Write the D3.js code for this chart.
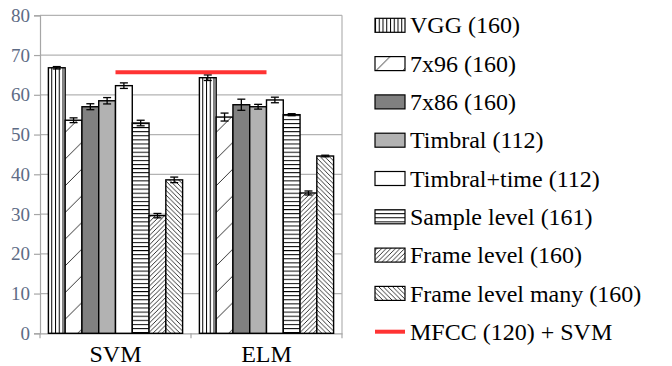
<!DOCTYPE html>
<html><head><meta charset="utf-8">
<script src="https://cdn.jsdelivr.net/npm/d3@7"></script>
<style>html,body{margin:0;padding:0;background:#fff;} svg{display:block;}</style>
</head><body>
<svg id="chart" width="672" height="366"></svg>
<script>
const categories = ["SVM", "ELM"];
const seriesNames = ["VGG (160)", "7x96 (160)", "7x86 (160)", "Timbral (112)", "Timbral+time (112)", "Sample level (161)", "Frame level (160)", "Frame level many (160)"];
const svmValues = [66.8, 53.6, 57.0, 58.5, 62.3, 52.9, 29.6, 38.6];
const svmErrors = [0.3, 0.6, 0.75, 0.8, 0.7, 0.7, 0.55, 0.7];
const elmValues = [64.3, 54.4, 57.5, 57.0, 58.7, 55.0, 35.3, 44.6];
const elmErrors = [0.7, 1.0, 1.4, 0.6, 0.7, 0.25, 0.5, 0.2];
const mfccName = "MFCC (120) + SVM";
const mfccValues = [65.7, 65.7];
const yTicks = [0, 10, 20, 30, 40, 50, 60, 70, 80];

const svg = d3.select("#chart");
const font = "Liberation Serif";
const pLeft = 40, pRight = 342, pTop = 15.3, pBottom = 333.3;

const defs = svg.append("defs");
function pat(id, w, h, draw, tx) {
  const p = defs.append("pattern").attr("id", id).attr("patternUnits", "userSpaceOnUse")
    .attr("width", w).attr("height", h);
  if (tx) p.attr("patternTransform", `translate(${tx},0)`);
  p.append("rect").attr("width", w).attr("height", h).attr("fill", "#fff");
  draw(p);
}
const diagUp = (p, s, sw) => {
  p.append("line").attr("x1", 0).attr("y1", s).attr("x2", s).attr("y2", 0).attr("stroke", "#000").attr("stroke-width", sw);
  p.append("line").attr("x1", -1).attr("y1", 1).attr("x2", 1).attr("y2", -1).attr("stroke", "#000").attr("stroke-width", sw);
  p.append("line").attr("x1", s - 1).attr("y1", s + 1).attr("x2", s + 1).attr("y2", s - 1).attr("stroke", "#000").attr("stroke-width", sw);
};
pat("pVGG", 3.75, 10, p => p.append("line").attr("x1", 0.5).attr("x2", 0.5).attr("y1", 0).attr("y2", 10).attr("stroke", "#000").attr("stroke-width", 1));
pat("p796", 26.7, 26.7, p => diagUp(p, 26.7, 0.8), 24);
pat("p796L", 26.7, 26.7, p => diagUp(p, 26.7, 0.8), 19.5);
pat("pSample", 10, 4.1, p => p.append("line").attr("x1", 0).attr("x2", 10).attr("y1", 0.5).attr("y2", 0.5).attr("stroke", "#000").attr("stroke-width", 1));
pat("pFrame", 4.6, 4.6, p => diagUp(p, 4.6, 0.8));
pat("pMany", 4.6, 4.6, p => {
  p.append("line").attr("x1", 0).attr("y1", 0).attr("x2", 4.6).attr("y2", 4.6).attr("stroke", "#000").attr("stroke-width", 0.8);
  p.append("line").attr("x1", 3.6).attr("y1", -1).attr("x2", 5.6).attr("y2", 1).attr("stroke", "#000").attr("stroke-width", 0.8);
  p.append("line").attr("x1", -1).attr("y1", 3.6).attr("x2", 1).attr("y2", 5.6).attr("stroke", "#000").attr("stroke-width", 0.8);
});
const fills = ["url(#pVGG)", "url(#p796)", "#808080", "#b2b2b2", "#ffffff", "url(#pSample)", "url(#pFrame)", "url(#pMany)"];
const legendFills = ["url(#pVGG)", "url(#p796L)", "#808080", "#b2b2b2", "#ffffff", "url(#pSample)", "url(#pFrame)", "url(#pMany)"];

const y = d3.scaleLinear().domain([0, 80]).range([pBottom, pTop]);
const x0 = d3.scaleBand().domain(categories).range([pLeft, pRight]);
const x1 = d3.scaleBand().domain(seriesNames).range([0, x0.bandwidth()]).paddingOuter(0.5);

// gridlines
svg.append("g").selectAll("line").data(yTicks.filter(d => d > 0)).join("line")
  .attr("x1", pLeft).attr("x2", pRight).attr("y1", d => y(d)).attr("y2", d => y(d))
  .attr("stroke", "#b3b3b3").attr("stroke-width", 1.2);
svg.append("line").attr("x1", pRight).attr("x2", pRight).attr("y1", pTop).attr("y2", pBottom)
  .attr("stroke", "#b3b3b3").attr("stroke-width", 1.2);

// y axis
const yAxis = svg.append("g").attr("transform", `translate(${pLeft},0)`)
  .call(d3.axisLeft(y).tickValues(yTicks).tickSize(6).tickPadding(4));
yAxis.attr("font-family", font).attr("font-size", 19);
yAxis.select(".domain").attr("stroke", "#a6a6a6").attr("stroke-width", 1.2);
yAxis.selectAll(".tick line").attr("stroke", "#a6a6a6").attr("stroke-width", 1.2);
yAxis.selectAll("text").attr("font-family", font).attr("font-size", 19).attr("fill", "#5d6b85");

// x axis
const xAxis = svg.append("g").attr("transform", `translate(0,${pBottom})`)
  .call(d3.axisBottom(x0).tickSize(0).tickPadding(12));
xAxis.attr("font-family", font).attr("font-size", 24);
xAxis.select(".domain").attr("stroke", "#a6a6a6").attr("stroke-width", 1.2);
xAxis.selectAll("text").attr("font-family", font).attr("font-size", 24).attr("fill", "#000");
svg.append("g").selectAll("line").data([pLeft, x0("ELM"), pRight]).join("line")
  .attr("x1", d => d).attr("x2", d => d).attr("y1", pBottom).attr("y2", pBottom + 5)
  .attr("stroke", "#a6a6a6").attr("stroke-width", 1.2);

// bars
const groups = [
  { cat: "SVM", vals: svmValues, errs: svmErrors },
  { cat: "ELM", vals: elmValues, errs: elmErrors }
];
groups.forEach(g => {
  const gg = svg.append("g").attr("transform", `translate(${x0(g.cat)},0)`);
  const data = seriesNames.map((s, i) => ({ s, i, v: g.vals[i], e: g.errs[i] }));
  gg.selectAll("rect").data(data).join("rect")
    .attr("x", d => x1(d.s)).attr("width", x1.bandwidth())
    .attr("y", d => y(d.v)).attr("height", d => y(0) - y(d.v))
    .attr("fill", d => fills[d.i]).attr("stroke", "#000").attr("stroke-width", 1.4);
  const eb = gg.selectAll("g.eb").data(data).join("g").attr("class", "eb");
  const cx = d => x1(d.s) + x1.bandwidth() / 2;
  eb.append("line").attr("x1", cx).attr("x2", cx)
    .attr("y1", d => y(d.v + d.e)).attr("y2", d => y(d.v - d.e)).attr("stroke", "#000").attr("stroke-width", 1.3);
  eb.append("line").attr("x1", d => cx(d) - 4).attr("x2", d => cx(d) + 4)
    .attr("y1", d => y(d.v + d.e)).attr("y2", d => y(d.v + d.e)).attr("stroke", "#000").attr("stroke-width", 1.3);
  eb.append("line").attr("x1", d => cx(d) - 4).attr("x2", d => cx(d) + 4)
    .attr("y1", d => y(d.v - d.e)).attr("y2", d => y(d.v - d.e)).attr("stroke", "#000").attr("stroke-width", 1.3);
});

// MFCC line
const mline = d3.line().x((d, i) => x0(categories[i]) + x0.bandwidth() / 2).y(d => y(d));
svg.append("path").datum(mfccValues).attr("d", mline).attr("fill", "none")
  .attr("stroke", "#ff3333").attr("stroke-width", 4);

// legend
const lg = svg.append("g").attr("font-family", font).attr("font-size", 24);
const rowY = i => 25.3 + 38.3 * i;
seriesNames.forEach((s, i) => {
  lg.append("rect").attr("x", 375).attr("y", rowY(i) - 7).attr("width", 30).attr("height", 14)
    .attr("fill", legendFills[i]).attr("stroke", "#000").attr("stroke-width", 1.2);
  lg.append("text").attr("x", 410).attr("y", rowY(i)).attr("dy", "0.34em")
    .attr("font-family", font).attr("font-size", 24).attr("fill", "#000").text(s);
});
lg.append("line").attr("x1", 375).attr("x2", 405).attr("y1", rowY(8)).attr("y2", rowY(8))
  .attr("stroke", "#ff3333").attr("stroke-width", 4);
lg.append("text").attr("x", 410).attr("y", rowY(8)).attr("dy", "0.34em")
  .attr("font-family", font).attr("font-size", 24).attr("fill", "#000").text(mfccName);
</script>
</body></html>
